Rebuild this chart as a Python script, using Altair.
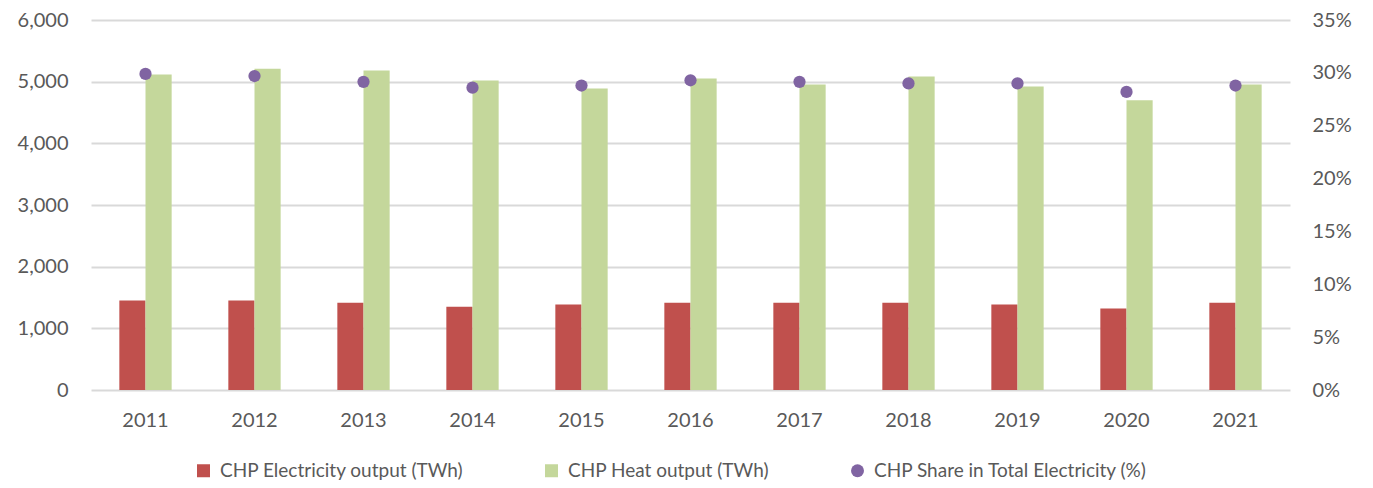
import altair as alt
import pandas as pd

years = ["2011", "2012", "2013", "2014", "2015", "2016", "2017", "2018", "2019", "2020", "2021"]
elec = [1450, 1450, 1415, 1350, 1385, 1415, 1415, 1415, 1385, 1320, 1415]
heat = [5115, 5210, 5180, 5020, 4890, 5050, 4955, 5085, 4920, 4700, 4955]
share = [0.299, 0.297, 0.2915, 0.286, 0.288, 0.293, 0.2915, 0.290, 0.290, 0.282, 0.288]

s_elec = "CHP Electricity output (TWh)"
s_heat = "CHP Heat output (TWh)"
s_share = "CHP Share in Total Electricity (%)"
series_all = [s_elec, s_heat, s_share]
colors = ["#C0504D", "#C4D79B", "#8064A2"]

bars = pd.DataFrame(
    [{"year": y, "series": s_elec, "value": v} for y, v in zip(years, elec)]
    + [{"year": y, "series": s_heat, "value": v} for y, v in zip(years, heat)]
)
pts = pd.DataFrame({"year": years, "series": s_share, "share": share})

FONT = "Lato"
LC = "#595959"
FS = 20

xscale = alt.Scale(domain=years, paddingInner=0.52, paddingOuter=0.26)
xaxis = alt.Axis(title=None, labelFontSize=FS, labelColor=LC, labelFont=FONT,
                 ticks=False, domain=False, labelPadding=20, labelAngle=0)
color = alt.Color("series:N", scale=alt.Scale(domain=series_all, range=colors), title=None)

bar_layer = alt.Chart(bars).mark_bar().encode(
    x=alt.X("year:N", scale=xscale, axis=xaxis),
    xOffset=alt.XOffset("series:N", scale=alt.Scale(domain=[s_elec, s_heat], paddingInner=0, paddingOuter=0)),
    y=alt.Y("value:Q", scale=alt.Scale(domain=[0, 6000], nice=False),
            axis=alt.Axis(title=None, values=[0, 1000, 2000, 3000, 4000, 5000, 6000], format=",.0f",
                          labelFontSize=FS, labelColor=LC, labelFont=FONT, ticks=False, domain=False,
                          labelPadding=23, grid=True, gridColor="#D9D9D9", gridWidth=2)),
    color=color,
)

pt_layer = alt.Chart(pts).mark_point(filled=True, size=150, opacity=1).encode(
    x=alt.X("year:N", scale=xscale, axis=xaxis),
    y=alt.Y("share:Q", scale=alt.Scale(domain=[0, 0.35], nice=False),
            axis=alt.Axis(title=None, orient="right", values=[0, 0.05, 0.1, 0.15, 0.2, 0.25, 0.3, 0.35],
                          format=".0%", labelFontSize=FS, labelColor=LC, labelFont=FONT, ticks=False,
                          domain=False, labelPadding=22, grid=False)),
    color=color,
    shape=alt.Shape("series:N", scale=alt.Scale(domain=series_all, range=["square", "square", "circle"]), title=None),
)

chart = alt.layer(bar_layer, pt_layer).resolve_scale(y="independent").properties(
    width=1199, height=370,
    autosize=alt.AutoSizeParams(type="none"),
    padding={"left": 83, "top": 12, "right": 75, "bottom": 90},
).configure_view(stroke=None).configure_legend(
    orient="none", legendX=103, legendY=441, direction="horizontal",
    labelFontSize=19, labelColor=LC, labelFont=FONT, labelOffset=7,
    symbolSize=169, symbolStrokeWidth=0, columnPadding=78, labelLimit=400,
)

chart.save("out.html", embed_options={"renderer": "svg", "actions": False})
